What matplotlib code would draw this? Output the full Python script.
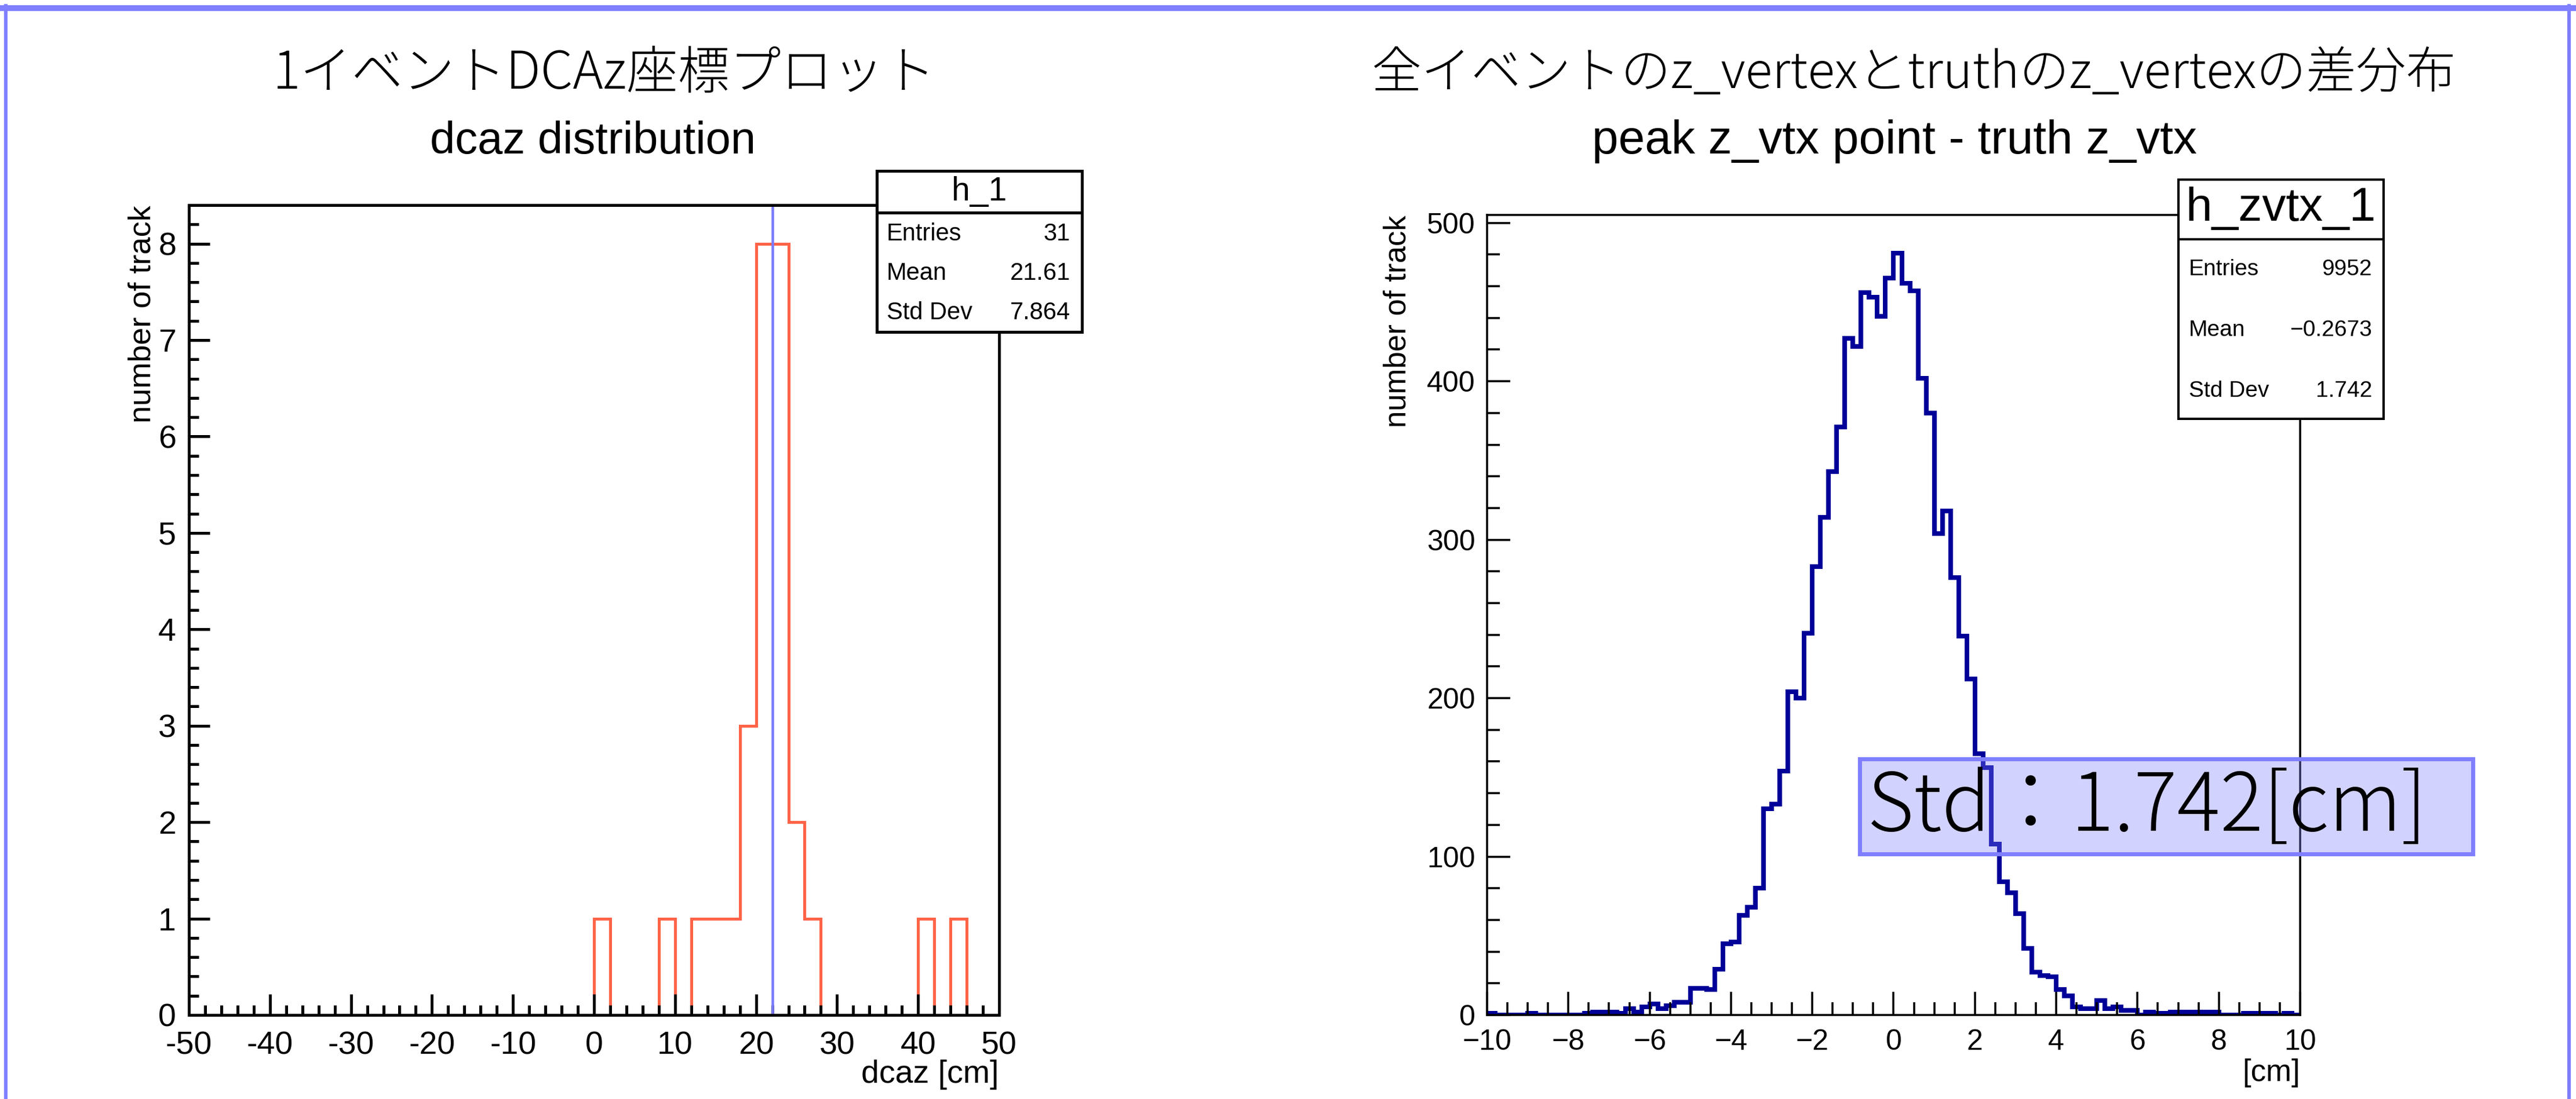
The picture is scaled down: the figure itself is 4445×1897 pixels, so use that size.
import numpy as np
import matplotlib
matplotlib.use("Agg")
import matplotlib.pyplot as plt
from matplotlib.patches import Rectangle
from matplotlib.lines import Line2D
from matplotlib.ticker import MultipleLocator, FuncFormatter

# ---- data ----
# left: dcaz of the tracks of one event, 2 cm bins from -50 to 50
dcaz_edges = np.arange(-50, 52, 2)
dcaz_counts = [0] * 25 + [1, 0, 0, 0, 1, 0, 1, 1, 1, 3, 8, 8, 2, 1, 0,
                          0, 0, 0, 0, 0, 1, 0, 1, 0, 0]
dcaz_peak = 22
dcaz_stats = [("Entries", "31"), ("Mean", "21.61"), ("Std Dev", "7.864")]

# right: peak z_vtx - truth z_vtx, 0.2 cm bins from -10 to 10
zvtx_edges = np.linspace(-10, 10, 101)
zvtx_counts = [
    1, 0, 0, 0, 0, 1, 0, 0, 0, 0,
    0, 0, 1, 2, 2, 2, 1, 4, 2, 5,
    7, 4, 6, 8, 8, 17, 17, 16, 29, 45,
    46, 63, 68, 80, 130, 133, 154, 204, 200, 241,
    283, 314, 343, 371, 427, 422, 456, 453, 441, 465,
    481, 462, 457, 402, 380, 304, 318, 276, 239, 212,
    165, 156, 108, 84, 77, 64, 42, 27, 25, 24,
    16, 12, 5, 4, 4, 9, 4, 5, 3, 3,
    0, 2, 1, 1, 2, 2, 2, 2, 2, 2,
    0, 0, 0, 1, 1, 1, 1, 0, 1, 0,
]
zvtx_stats = [("Entries", "9952"), ("Mean", "\u22120.2673"), ("Std Dev", "1.742")]
zvtx_std_text = "Std：1.742[cm]"

plt.rcParams['font.family'] = ['Liberation Sans', 'DejaVu Sans']
JP = ['Noto Sans CJK JP', 'DejaVu Sans']

W, H, DPI = 4445, 1897, 100
PT = 72 / DPI  # points per pixel
fig = plt.figure(figsize=(W / DPI, H / DPI), dpi=DPI)


def fbox(x0, y0, x1, y1):
    return [x0 / W, 1 - y1 / H, (x1 - x0) / W, (y1 - y0) / H]


def frect(x0, y0, x1, y1, **kw):
    fig.add_artist(Rectangle((x0 / W, 1 - y1 / H), (x1 - x0) / W, (y1 - y0) / H,
                             transform=fig.transFigure, **kw))


def fline(x0, y0, x1, y1, **kw):
    fig.add_artist(Line2D([x0 / W, x1 / W], [1 - y0 / H, 1 - y1 / H],
                          transform=fig.transFigure, **kw))


def ftext(x, y, s, **kw):
    fig.text(x / W, 1 - y / H, s, **kw)


# outer frame
border = '#7f7fff'
fline(4, 14, 4441, 14, color=border, lw=10 * PT)
fline(10, 10, 10, H, color=border, lw=6 * PT)
fline(4433, 10, 4433, H, color=border, lw=6 * PT)

# ---- left panel ----
axL = fig.add_axes(fbox(326, 354, 1724, 1752))
axL.stairs(dcaz_counts, dcaz_edges, color='#ff6347', lw=5 * PT)
axL.plot([dcaz_peak, dcaz_peak], [0, 8.4], color='#7b7bff', lw=4.5 * PT)
axL.set_xlim(-50, 50)
axL.set_ylim(0, 8.4)
axL.xaxis.set_major_locator(MultipleLocator(10))
axL.xaxis.set_minor_locator(MultipleLocator(2))
axL.yaxis.set_major_locator(MultipleLocator(1))
axL.yaxis.set_minor_locator(MultipleLocator(0.2))
axL.xaxis.set_major_formatter(FuncFormatter(lambda v, p: f"{v:g}"))
axL.yaxis.set_major_formatter(FuncFormatter(lambda v, p: f"{v:g}"))
axL.tick_params(which='both', direction='in', width=5 * PT, labelsize=40)
axL.tick_params(axis='x', pad=27 * PT)
axL.tick_params(axis='y', pad=22 * PT)
axL.tick_params(which='major', length=36 * PT)
axL.tick_params(which='minor', length=17 * PT)
for s in axL.spines.values():
    s.set_linewidth(5 * PT)

ftext(1043, 128, "1イベントDCAz座標プロット", ha='center', va='center',
      fontsize=64, family=JP, weight='light')
ftext(1023, 244, "dcaz distribution", ha='center', va='center', fontsize=56)
ftext(245, 354, "number of track", rotation=90, ha='center', va='top', fontsize=39)
ftext(1724, 1855, "dcaz [cm]", ha='right', va='center', fontsize=40)

frect(1513, 295, 1867, 573, fc='white', ec='black', lw=5 * PT, zorder=5)
fline(1513, 367, 1867, 367, color='black', lw=5 * PT, zorder=6)
ftext(1690, 331, "h_1", ha='center', va='center', fontsize=41, zorder=7)
for i, (k, v) in enumerate(dcaz_stats):
    y = 404 + i * 68
    ftext(1530, y, k, ha='left', va='center', fontsize=30, zorder=7)
    ftext(1847, y, v, ha='right', va='center', fontsize=30, zorder=7)

# ---- right panel ----
axR = fig.add_axes(fbox(2566, 371, 3969, 1752))
axR.stairs(zvtx_counts, zvtx_edges, color='#000099', lw=8 * PT)
axR.set_xlim(-10, 10)
axR.set_ylim(0, 505)
axR.xaxis.set_major_locator(MultipleLocator(2))
axR.xaxis.set_minor_locator(MultipleLocator(0.5))
axR.yaxis.set_major_locator(MultipleLocator(100))
axR.yaxis.set_minor_locator(MultipleLocator(20))
axR.xaxis.set_major_formatter(FuncFormatter(lambda v, p: f"{v:g}".replace('-', '\u2212')))
axR.tick_params(which='both', direction='in', width=3.5 * PT, labelsize=36)
axR.tick_params(axis='x', pad=24 * PT)
axR.tick_params(axis='y', pad=20 * PT)
axR.tick_params(which='major', length=40 * PT)
axR.tick_params(which='minor', length=22 * PT)
for s in axR.spines.values():
    s.set_linewidth(3.5 * PT)

ftext(3303, 128, "全イベントのz_vertexとtruthのz_vertexの差分布", ha='center', va='center',
      fontsize=62, family=JP, weight='light')
ftext(3269, 244, "peak z_vtx point - truth z_vtx", ha='center', va='center', fontsize=59)
ftext(2412, 372, "number of track", rotation=90, ha='center', va='top', fontsize=38)
ftext(3969, 1852, "[cm]", ha='right', va='center', fontsize=38)

frect(3759, 310, 4113, 723, fc='white', ec='black', lw=4 * PT, zorder=5)
fline(3759, 413, 4113, 413, color='black', lw=4 * PT, zorder=6)
ftext(3936, 360, "h_zvtx_1", ha='center', va='center', fontsize=59, zorder=7)
for i, (k, v) in enumerate(zvtx_stats):
    y = 465 + i * 105
    ftext(3777, y, k, ha='left', va='center', fontsize=28, zorder=7)
    ftext(4093, y, v, ha='right', va='center', fontsize=28, zorder=7)

# Std box over the right histogram
frect(3209, 1310, 4267, 1474, fc=(0.5, 0.5, 1, 0.35), ec=border, lw=7 * PT, zorder=8)
ftext(3222, 1395, zvtx_std_text, ha='left', va='center', fontsize=100,
      family=JP, weight='light', zorder=9)

fig.savefig("out.png", dpi=DPI)
